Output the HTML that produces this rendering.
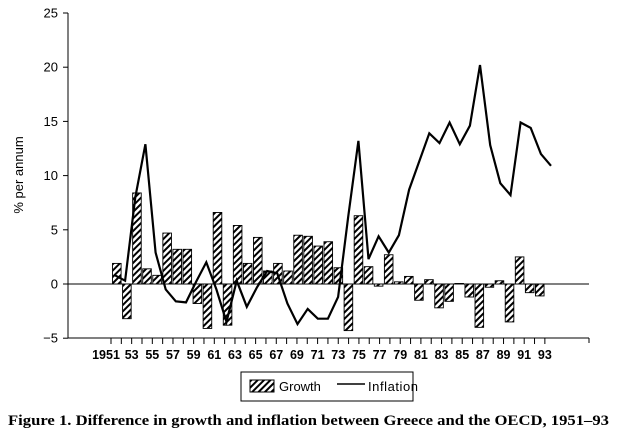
<!DOCTYPE html>
<html><head><meta charset="utf-8"><style>
html,body{margin:0;padding:0;background:#fff;width:617px;height:433px;overflow:hidden}
svg{display:block}
</style></head><body>
<svg id="c" width="617" height="433" xmlns="http://www.w3.org/2000/svg" font-family="Liberation Sans, Arial, sans-serif">
<defs>
<pattern id="h" width="4.5" height="4.5" patternUnits="userSpaceOnUse" patternTransform="rotate(45)">
<rect width="4.5" height="4.5" fill="#fff"/><rect width="2" height="4.5" fill="#000"/>
</pattern>
</defs>
<g id="g"></g>
<text x="23" y="175" font-size="13" transform="rotate(-90 23 175)" text-anchor="middle">% per annum</text>
<rect x="241" y="372" width="172" height="29" fill="#fff" stroke="#000" stroke-width="1"/>
<rect x="250" y="380" width="24" height="12" fill="url(#h)" stroke="#000" stroke-width="1"/>
<text x="279" y="391" font-size="13">Growth</text>
<line x1="337" y1="384" x2="365" y2="384" stroke="#000" stroke-width="1.5"/>
<text x="368" y="391" font-size="13" textLength="50">Inflation</text>
<text x="8" y="425" font-size="14.5" font-weight="bold" font-family="Liberation Serif, serif" textLength="601" lengthAdjust="spacingAndGlyphs">Figure 1. Difference in growth and inflation between Greece and the OECD, 1951–93</text>
</svg>
<script>
var g=document.getElementById('g'),s='';
function Y(v){return 284-10.84*v;}
var gr=[1.9,-3.2,8.4,1.4,0.8,4.7,3.2,3.2,-1.8,-4.1,6.6,-3.8,5.4,1.9,4.3,1.2,1.9,1.2,4.5,4.4,3.5,3.9,1.5,-4.3,6.3,1.6,-0.2,2.7,0.2,0.7,-1.5,0.4,-2.2,-1.6,0.05,-1.2,-4.0,-0.3,0.3,-3.5,2.5,-0.8,-1.1];
var inf=[0.8,0.3,8.0,12.9,2.9,-0.5,-1.6,-1.7,0.2,2.0,-0.5,-3.5,0.3,-2.1,-0.3,1.2,1.0,-1.8,-3.7,-2.3,-3.2,-3.2,-1.2,6.2,13.2,2.3,4.4,2.9,4.5,8.7,11.3,13.9,13.0,14.9,12.9,14.6,20.2,12.8,9.3,8.2,14.9,14.4,12.0,10.9];
s+='<line x1="68" y1="13" x2="68" y2="338" stroke="#000"/>';
for(var v=-5;v<=25;v+=5){var y=Y(v);s+='<line x1="63" y1="'+y+'" x2="68" y2="'+y+'" stroke="#000"/>';
s+='<text x="58" y="'+(y+4.5)+'" font-size="13" text-anchor="end">'+(v<0?'\u2212'+(-v):v)+'</text>';}
s+='<line x1="68" y1="338" x2="589" y2="338" stroke="#000"/><line x1="589" y1="338" x2="589" y2="343" stroke="#000"/>';
for(var i=0;i<43;i++){var x=111+10.33*i;s+='<line x1="'+x+'" y1="338" x2="'+x+'" y2="344" stroke="#000"/>';
if(i%2==0){var lab=i==0?'1951':String(51+i);s+='<text x="'+(i==0?106:x)+'" y="359" font-size="12.5" font-weight="bold" text-anchor="middle">'+lab+'</text>';}}
s+='<line x1="68" y1="284" x2="589" y2="284" stroke="#000"/>';
for(var i=0;i<43;i++){var x=112.5+10.07*i,v=gr[i],y0=Y(Math.max(v,0)),h=Math.abs(v)*10.84;
s+='<rect x="'+x+'" y="'+y0+'" width="8.6" height="'+h+'" fill="url(#h)" stroke="#000" stroke-width="0.9"/>';}
var p=[];for(var i=0;i<inf.length;i++){p.push((115+10.14*i).toFixed(1)+','+Y(inf[i]).toFixed(1));}
s+='<polyline points="'+p.join(' ')+'" fill="none" stroke="#000" stroke-width="2.2" stroke-linejoin="miter"/>';
g.innerHTML=s;
</script>
</body></html>
